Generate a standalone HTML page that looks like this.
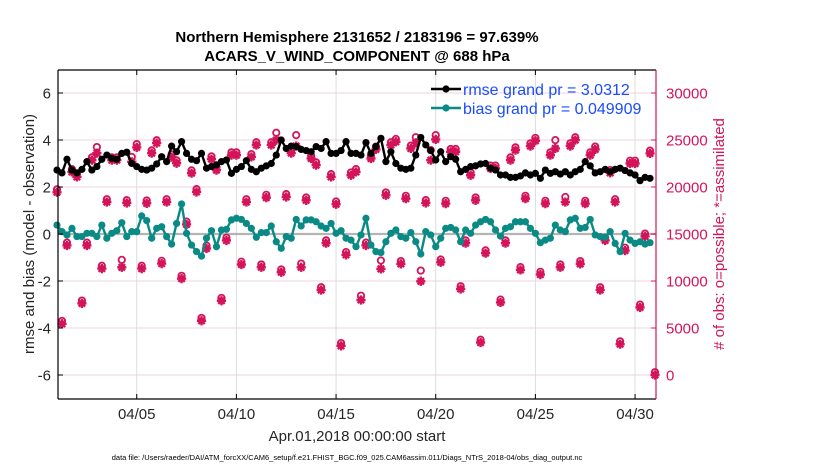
<!DOCTYPE html>
<html><head><meta charset="utf-8">
<style>
html,body{margin:0;padding:0;background:#fff;}
svg{display:block;font-family:"Liberation Sans",sans-serif;}
</style></head>
<body>
<svg id="chart" width="830" height="470" viewBox="0 0 830 470" xmlns="http://www.w3.org/2000/svg">
<text x="357" y="42" text-anchor="middle" font-size="15" font-weight="bold" fill="#000">Northern Hemisphere 2131652 / 2183196 = 97.639%</text>
<text x="357" y="61" text-anchor="middle" font-size="15" font-weight="bold" fill="#000">ACARS_V_WIND_COMPONENT @ 688 hPa</text>
<g id="grid"></g>
<g id="marks"></g>
<g id="axes"></g>
<text transform="translate(34,234) rotate(-90)" text-anchor="middle" font-size="15" fill="#262626">rmse and bias (model - observation)</text>
<text transform="translate(724,234) rotate(-90)" text-anchor="middle" font-size="15" fill="#d4145a"># of obs: o=possible; *=assimilated</text>
<text x="357" y="441" text-anchor="middle" font-size="15" fill="#262626">Apr.01,2018 00:00:00 start</text>
<text x="347" y="460" text-anchor="middle" font-size="7.5" fill="#000">data file: /Users/raeder/DAI/ATM_forcXX/CAM6_setup/f.e21.FHIST_BGC.f09_025.CAM6assim.011/Diags_NTrS_2018-04/obs_diag_output.nc</text>
<g id="legend"></g>
</svg>
<script>
// ---- data ----
const xTickDays = [4, 9, 14, 19, 24, 29];
const xTickLabels = ["04/05", "04/10", "04/15", "04/20", "04/25", "04/30"];
const yTicks = [-6, -4, -2, 0, 2, 4, 6];
const y2Ticks = [0, 5000, 10000, 15000, 20000, 25000, 30000];
const rmse = [2.72,2.6,3.18,2.72,2.6,2.75,3.08,2.72,2.87,3.18,3.36,3.22,3.18,3.43,3.48,3.0,2.87,2.75,2.72,2.8,2.98,3.29,3.08,3.74,3.5,3.93,3.43,3.18,3.12,3.43,
2.8,2.87,2.94,3.08,3.15,2.58,2.75,2.87,3.12,2.75,2.65,2.8,2.9,3.0,3.36,4.0,3.64,3.74,3.72,3.6,3.55,3.5,3.72,3.64,3.93,3.43,3.43,3.55,3.93,3.43,
3.43,3.36,3.89,3.43,3.72,4.07,3.08,3.5,3.0,2.8,2.75,2.8,3.36,4.11,3.79,3.55,3.15,3.5,3.08,3.29,3.18,2.65,2.75,2.87,2.9,2.98,3.0,2.8,2.72,2.51,
2.51,2.41,2.41,2.47,2.6,2.51,2.58,2.37,2.72,2.58,2.65,2.55,2.65,2.51,2.65,2.75,3.08,2.9,2.6,2.65,2.75,2.65,2.75,2.8,2.7,2.6,2.51,2.27,2.41,2.37];
const bias = [0.38,0.1,-0.04,0.24,-0.11,-0.11,0.03,0.03,-0.11,0.38,-0.18,0.03,0.14,0.48,-0.11,0.1,0.1,0.77,0.57,-0.18,0.24,0.31,-0.11,-0.43,0.45,1.28,0.03,-0.47,-0.75,-0.94,
-0.18,0.14,-0.54,0.17,0.2,0.6,0.67,0.62,0.45,0.24,-0.14,0.06,0.06,0.34,-0.33,-0.61,-0.11,-0.18,0.62,0.34,0.6,0.6,0.52,0.34,0.24,0.45,0.03,0.14,-0.18,-0.26,
-0.54,-0.04,0.67,-0.47,-0.75,-0.79,-0.33,0.03,0.17,-0.11,-0.18,0.06,-0.33,-0.85,0.1,-0.04,-0.54,-0.18,0.24,0.28,0.17,-0.33,0.17,0.03,0.38,0.52,0.62,0.52,0.17,-0.09,
0.24,0.31,0.52,0.52,0.52,0.24,0.03,-0.37,-0.26,-0.18,0.38,0.17,0.1,0.6,0.67,0.24,0.28,0.62,-0.04,-0.11,-0.14,0.1,-0.4,-0.75,0.03,-0.26,-0.4,-0.33,-0.43,-0.37];
const assimilated = [19440,5450,13780,21600,21070,7620,13780,22850,23600,11320,18400,22850,22850,11460,18300,22680,24210,11320,18260,23600,24670,11850,18400,23180,22530,10250,16020,21470,19470,5770,
13460,22960,21790,7900,14310,23390,23390,11750,18400,23200,24460,11460,18870,24460,24990,10930,18940,23600,24350,11460,18580,23030,22320,9040,14020,21070,18160,3100,12780,21250,
21600,7980,13780,23030,24000,11290,19120,24460,24810,11820,18760,24100,24700,9970,18300,22850,25060,11990,18230,23740,23740,9150,14020,21250,18580,3450,12960,21970,21970,7720,
14020,22850,23920,11180,18760,24350,24920,10680,18230,23390,24100,11460,18400,24350,24990,11820,18230,23390,24000,9040,14310,21500,18400,3280,13240,22500,22500,7190,14740,23570,0];
const possible = [19750,5750,14080,21900,21370,7920,14080,23150,24250,11620,18700,23150,23150,12250,18600,23200,24560,11620,18560,23900,24970,12150,18700,23480,22830,10550,16320,21770,19770,6070,
13760,23260,22090,8200,14610,23690,23690,12050,18700,23500,24760,11760,19170,24760,25770,11230,19240,23900,25520,11850,18880,23330,22620,9340,14320,21370,18460,3400,13080,21550,
21900,8440,14080,23330,24300,12180,19420,24760,25110,12120,19060,24400,25300,11110,18600,23920,25520,12290,18530,24040,24040,9450,14320,21550,18880,3750,13260,22270,22270,8020,
14320,23150,24220,11480,19060,24650,25220,10980,18530,23690,24990,11760,18940,24650,25290,12120,18530,23690,24300,9340,14610,21800,18700,3580,13540,22800,22800,7490,15040,23870,300];

// ---- geometry ----
const L=58,R=656,T=70,B=399;
const xS = d => L + (d/30)*(R-L) - 1;
const yS = v => 234 - v*23.5;
const y2S = c => yS(c/2500 - 6);
const NS='http://www.w3.org/2000/svg';
function mk(tag, attrs, parent){const e=document.createElementNS(NS,tag);for(const k in attrs)e.setAttribute(k,attrs[k]);parent.appendChild(e);return e;}
const grid=document.getElementById('grid'), marks=document.getElementById('marks'), axes=document.getElementById('axes'), legend=document.getElementById('legend');

yTicks.forEach(v=>{
  const g=mk('line',{x1:L,x2:R,y1:yS(v),y2:yS(v),stroke:'#f2d3e0','stroke-width':1},grid);
  
  
});
xTickDays.forEach(d=>{
  const g=mk('line',{x1:xS(d),x2:xS(d),y1:T,y2:B,stroke:'#dcdcdc','stroke-width':1},grid);
  
  
});
const zl=mk('line',{x1:L,x2:R,y1:yS(0),y2:yS(0),stroke:'#b4b4b4','stroke-width':2.2},grid);



const starPath=(x,y,s)=>`M${x-s},${y}H${x+s}M${x},${y-s}V${y+s}M${x-s*0.7},${y-s*0.7}L${x+s*0.7},${y+s*0.7}M${x-s*0.7},${y+s*0.7}L${x+s*0.7},${y-s*0.7}`;
assimilated.forEach((c,i)=>{
  const x=xS(i*0.25);
  const o=mk('circle',{cx:x,cy:y2S(possible[i]),r:3.2,fill:'none',stroke:'#d4145a','stroke-width':1.8},marks);
  
  
  const s=mk('path',{d:starPath(x,y2S(c),4.6),stroke:'#d4145a','stroke-width':2.4,fill:'none'},marks);
  
  
  const dot=mk('circle',{cx:x,cy:y2S(c),r:2.6,fill:'#d4145a'},marks);
  
  
});

function series(vals,color,name){
  const pts=vals.map((v,i)=>xS(i*0.25)+','+yS(v)).join(' ');
  const pl=mk('polyline',{points:pts,fill:'none',stroke:color,'stroke-width':2.4},marks);
  
  
  vals.forEach((v,i)=>{
    const c=mk('circle',{cx:xS(i*0.25),cy:yS(v),r:3.6,fill:color},marks);
    
    
  });
}
series(bias,'#0a8a85','bias');
series(rmse,'#000000','rmse');

const ax=[[L,T,L,B,'#000'],[L,T,R,T,'#000'],[L,B,R,B,'#000'],[R,T,R,B,'#d4145a']];
ax.forEach(a=>{
  const l=mk('line',{x1:a[0],y1:a[1],x2:a[2],y2:a[3],stroke:a[4],'stroke-width':1.2},axes);
  
  
});
yTicks.forEach(v=>{
  const t=mk('line',{x1:L,x2:L+5,y1:yS(v),y2:yS(v),stroke:'#000'},axes);
  
  
  const lb=mk('text',{x:L-7,y:yS(v)+5.5,'text-anchor':'end','font-size':15,fill:'#262626'},axes);
  lb.textContent=String(v);
  
  
});
y2Ticks.forEach(c=>{
  const t=mk('line',{x1:R-5,x2:R,y1:y2S(c),y2:y2S(c),stroke:'#d4145a'},axes);
  
  
  const lb=mk('text',{x:R+10,y:y2S(c)+5.5,'text-anchor':'start','font-size':15,fill:'#d4145a'},axes);
  lb.textContent=String(c);
  
  
});
xTickDays.forEach((d,i)=>{
  const t=mk('line',{x1:xS(d),x2:xS(d),y1:B,y2:B-5,stroke:'#000'},axes);
  
  
  const t2=mk('line',{x1:xS(d),x2:xS(d),y1:T,y2:T+5,stroke:'#000'},axes);
  
  
  const lb=mk('text',{x:xS(d),y:B+20,'text-anchor':'middle','font-size':15,fill:'#262626'},axes);
  lb.textContent=xTickLabels[i];
  
  
});

[['rmse grand pr = 3.0312','#000',89,'legend-entry-rmse'],['bias grand pr = 0.049909','#0a8a85',108,'legend-entry-bias']].forEach(e=>{
  const g=mk('g',{},legend);
  
  
  mk('line',{x1:431,x2:461,y1:e[2],y2:e[2],stroke:e[1],'stroke-width':2.4},g);
  mk('circle',{cx:446,cy:e[2],r:3.6,fill:e[1]},g);
  const t=mk('text',{x:463,y:e[2]+6,'font-size':16,fill:'#1a4cff'},g);
  t.textContent=e[0];
});
</script>
</body></html>
